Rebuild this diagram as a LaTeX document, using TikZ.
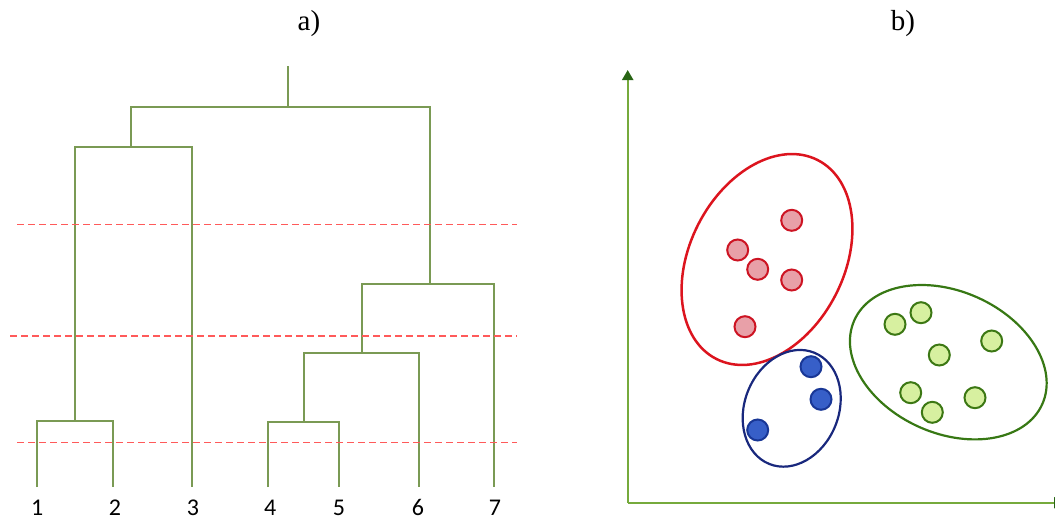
\documentclass[tikz,border=0pt]{standalone}
\usepackage{fontspec}
\setmainfont{Liberation Serif}
\newfontfamily\numfont{Carlito}
\usetikzlibrary{arrows.meta}
\definecolor{dgreen}{RGB}{122,154,84}
\definecolor{cutred}{RGB}{255,90,90}
\definecolor{axgreen}{RGB}{118,170,60}
\definecolor{axtip}{RGB}{40,100,20}
\definecolor{ered}{RGB}{220,20,30}
\definecolor{eblue}{RGB}{25,40,125}
\definecolor{egreen}{RGB}{55,120,20}
\definecolor{pred}{RGB}{232,160,168}
\definecolor{predl}{RGB}{205,20,35}
\definecolor{pblue}{RGB}{55,95,200}
\definecolor{pbluel}{RGB}{25,55,150}
\definecolor{pgreen}{RGB}{215,240,160}
\definecolor{pgreenl}{RGB}{60,120,20}
\tikzset{
  dendro/.style={draw=dgreen, line width=2pt, line join=miter},
  cutline/.style={draw=cutred, line width=1.8pt, dash pattern=on 7pt off 4pt},
  leaflabel/.style={font=\numfont\fontsize{24}{26}\selectfont, inner sep=0pt},
  panellabel/.style={font=\fontsize{29}{34}\selectfont, inner sep=0pt},
  axis/.style={draw=axgreen, line width=2.2pt},
  clusterline/.style={line width=2.5pt},
  ptred/.style={circle, minimum size=21pt, inner sep=0pt, draw=predl, fill=pred, line width=2pt},
  ptblue/.style={circle, minimum size=21pt, inner sep=0pt, draw=pbluel, fill=pblue, line width=2pt},
  ptgreen/.style={circle, minimum size=21pt, inner sep=0pt, draw=pgreenl, fill=pgreen, line width=2pt},
}
\begin{document}
\begin{tikzpicture}[x=1pt, y=-1pt]
\useasboundingbox (0,0) rectangle (1055,520);
% panel labels
\node[panellabel] (la) at (309,24) {a)};
\node[panellabel] (lb) at (903,24) {b)};

% ---- dendrogram ----
\coordinate (l1) at (36.5,487);
\coordinate (l2) at (113,487);
\coordinate (l3) at (192,487);
\coordinate (l4) at (268,487);
\coordinate (l5) at (339,487);
\coordinate (l6) at (418.5,487);
\coordinate (l7) at (494,487);
\coordinate (h12) at (74.5,421);
\coordinate (h123) at (131,147);
\coordinate (h45) at (303.5,421.5);
\coordinate (h456) at (362,353);
\coordinate (h4567) at (429.5,284);
\coordinate (hroot) at (288,107);
\coordinate (htop) at (288,66);

\draw[dendro] (l1) |- (h12) -| (l2);
\draw[dendro] (h12) |- (h123) -| (l3);
\draw[dendro] (l4) |- (h45) -| (l5);
\draw[dendro] (h45) |- (h456) -| (l6);
\draw[dendro] (h456) |- (h4567) -| (l7);
\draw[dendro] (h123) |- (hroot) -| (h4567);
\draw[dendro] (hroot) -- (htop);

\foreach \i/\x in {1/37.3,2/115,3/193,4/270.3,5/339,6/418,7/495}{
  \node[leaflabel] (n\i) at (\x,507.5) {\i};
}

% cut lines
\coordinate (c1a) at (17,224.5);  \coordinate (c1b) at (517,224.5);
\coordinate (c2a) at (10,336);    \coordinate (c2b) at (517,336);
\coordinate (c3a) at (17,442.5);  \coordinate (c3b) at (517,442.5);
\draw[cutline] (c1a) -- (c1b);
\draw[cutline] (c2a) -- (c2b);
\draw[cutline] (c3a) -- (c3b);

% ---- scatter panel ----
\coordinate (orig) at (627.7,502.7);
\coordinate (ytip) at (627.7,70);
\coordinate (xtip) at (1064,502.7);
\draw[axis, -{Triangle[width=11pt,length=10pt,color=axtip]}] (orig) -- (ytip);
\draw[axis, -{Triangle[width=11pt,length=10pt,color=axtip]}] (orig) -- (xtip);

% cluster ellipses
\coordinate (cr) at (767,259.5);
\coordinate (cb) at (791.7,408.3);
\coordinate (cg) at (948.3,362.2);
\draw[clusterline, draw=ered, rotate around={63:(cr)}] (cr) ellipse (111.6pt and 77.2pt);
\draw[clusterline, draw=eblue, line width=2.2pt, rotate around={68:(cb)}] (cb) ellipse (60pt and 47pt);
\draw[clusterline, draw=egreen, line width=2.2pt, rotate around={-24:(cg)}] (cg) ellipse (102.9pt and 71pt);

% points
\node[ptred] (r1) at (791.7,220.3) {};
\node[ptred] (r2) at (737.7,250) {};
\node[ptred] (r3) at (757.7,269.3) {};
\node[ptred] (r4) at (791.7,280) {};
\node[ptred] (r5) at (745,326.7) {};
\node[ptblue] (b1) at (811,366.7) {};
\node[ptblue] (b2) at (821,399.3) {};
\node[ptblue] (b3) at (757.7,430) {};
\node[ptgreen] (g1) at (895,324.3) {};
\node[ptgreen] (g2) at (921,312.7) {};
\node[ptgreen] (g3) at (991.7,341) {};
\node[ptgreen] (g4) at (939.3,355) {};
\node[ptgreen] (g5) at (910.7,392.7) {};
\node[ptgreen] (g6) at (975,397.7) {};
\node[ptgreen] (g7) at (932.3,412.3) {};
\end{tikzpicture}
\end{document}
